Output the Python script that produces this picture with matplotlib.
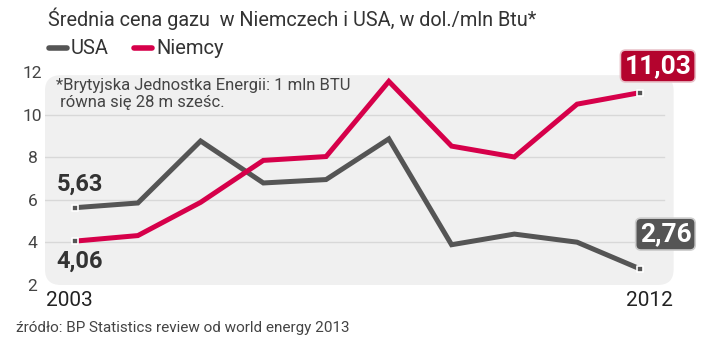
import matplotlib.pyplot as plt
from matplotlib.patches import FancyBboxPatch

plt.rcParams['font.family'] = ['Roboto', 'DejaVu Sans']

years = [2003, 2004, 2005, 2006, 2007, 2008, 2009, 2010, 2011, 2012]
usa = [5.63, 5.85, 8.76, 6.79, 6.95, 8.86, 3.89, 4.39, 4.01, 2.76]
niemcy = [4.06, 4.32, 5.88, 7.85, 8.03, 11.56, 8.52, 8.01, 10.49, 11.03]
yticks = [2, 4, 6, 8, 10, 12]

c_usa = '#555555'
c_de = '#d6004a'

fig = plt.figure(figsize=(7.2, 3.49), dpi=100)
ax = fig.add_axes([0.0625, 0.1834, 0.8819, 0.6103])
ax.set_xlim(2002.52, 2012.64)
ax.set_ylim(2, 12)

# tlo z zaokraglonymi rogami
bg = FancyBboxPatch((0.0, 0.0), 0.99, 0.985, boxstyle='round,pad=0,rounding_size=0.025',
                    transform=ax.transAxes, facecolor='#f0f0f0', edgecolor='none',
                    mutation_aspect=2.9, zorder=0)
ax.add_patch(bg)
ax.set_facecolor('none')
for s in ax.spines.values():
    s.set_visible(False)

for y in yticks[1:-1]:
    ax.axhline(y, xmin=0.0, xmax=0.975, color='#d8d8d8', lw=1, zorder=1)

ax.plot(years, usa, color=c_usa, lw=3.6, solid_joinstyle='miter', zorder=3)
ax.plot(years, niemcy, color=c_de, lw=3.6, solid_joinstyle='miter', zorder=3)
ends_x = [years[0], years[-1], years[0], years[-1]]
ends_y = [usa[0], usa[-1], niemcy[0], niemcy[-1]]
ax.scatter(ends_x, ends_y, marker='s', s=24, color='#555555', edgecolor='white', linewidth=1.2, zorder=4)

ax.set_yticks(yticks)
ax.set_yticklabels([str(v) for v in yticks], fontsize=12.5, color='#444444', ha='center')
ax.tick_params(axis='y', length=0, pad=9)
ax.set_xticks([])

ax.annotate('2003', xy=(2003, 0), xycoords=('data', 'axes fraction'), xytext=(-4, -4),
            textcoords='offset points', fontsize=15, color='#222222', ha='center', va='top')
ax.annotate('2012', xy=(2012, 0), xycoords=('data', 'axes fraction'), xytext=(7, -4),
            textcoords='offset points', fontsize=15, color='#222222', ha='center', va='top')

ax.text(2002.7, usa[0] + 0.55, '5,63', fontsize=17, fontweight='bold', color='#333333', va='bottom', ha='left')
ax.text(2002.7, niemcy[0] - 0.4, '4,06', fontsize=17, fontweight='bold', color='#333333', va='top', ha='left')
ax.text(2012.82, 12.28, '11,03', fontsize=19, fontweight='bold', color='white', va='center', ha='right',
        bbox=dict(boxstyle='round,pad=0.15,rounding_size=0.2', facecolor='#b4042e', edgecolor='#e8c0c8', lw=1.2),
        clip_on=False)
ax.text(2012.82, 4.39, '2,76', fontsize=19, fontweight='bold', color='white', va='center', ha='right',
        bbox=dict(boxstyle='round,pad=0.15,rounding_size=0.2', facecolor='#555555', edgecolor='#cccccc', lw=1.2),
        clip_on=False)

ax.text(2002.7, 10.95, '*Brytyjska Jednostka Energii: 1 mln BTU\n równa się 28 m sześc.', fontsize=12,
        color='#444444', va='center', ha='left', linespacing=1.15)

fig.text(0.066, 0.945, 'Średnia cena gazu  w Niemczech i USA, w dol./mln Btu*', fontsize=14.3,
         color='#333333', va='center', ha='left')
fig.text(0.022, 0.06, 'źródło: BP Statistics review od world energy 2013', fontsize=11,
         color='#444444', va='center', ha='left')

# legenda
fig.lines.append(plt.Line2D([0.068, 0.093], [0.862, 0.862], color=c_usa, lw=4, solid_capstyle='round',
                            transform=fig.transFigure))
fig.text(0.098, 0.862, 'USA', fontsize=14.5, color='#333333', va='center', ha='left')
fig.lines.append(plt.Line2D([0.186, 0.211], [0.862, 0.862], color=c_de, lw=4, solid_capstyle='round',
                            transform=fig.transFigure))
fig.text(0.217, 0.862, 'Niemcy', fontsize=14.5, color='#333333', va='center', ha='left')

fig.savefig('out.png', dpi=100, facecolor='white')
